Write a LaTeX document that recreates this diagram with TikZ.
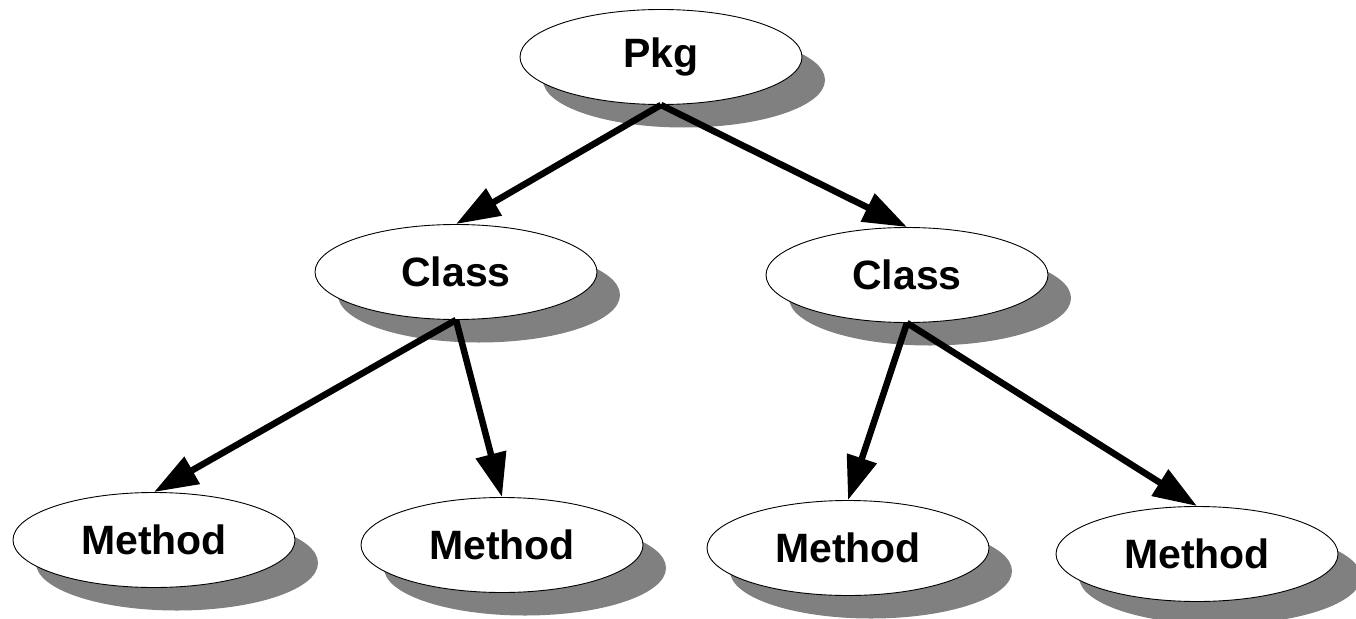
\documentclass[tikz,border=0pt]{standalone}
\usepackage{fontspec}
\setmainfont{Liberation Sans}
\usetikzlibrary{arrows.meta,shapes.geometric,shadows}
\begin{document}
\begin{tikzpicture}[x=1pt,y=-1pt,
  oval/.style={ellipse, draw=black, line width=0.9pt, fill=white,
    minimum width=282pt, minimum height=95pt, inner sep=0pt,
    font=\fontsize{41}{45}\selectfont\bfseries,
    drop shadow={shadow xshift=23pt, shadow yshift=-23pt,
      fill=black!50, opacity=1, draw=none}},
  link/.style={line width=6.5pt, -{Triangle[length=44pt,width=30pt]}}]
\useasboundingbox (0,0) rectangle (1356,618);

% tree of nodes
\node[oval] (pkg) at (661,57)  {Pkg};
\node[oval] (cl)  at (456,272) {Class};
\node[oval] (cr)  at (907,275) {Class};
\node[oval] (m1)  at (154,540) {Method};
\node[oval] (m2)  at (502,545) {Method};
\node[oval] (m3)  at (848,548) {Method};
\node[oval] (m4)  at (1197,554) {Method};

% containment arrows
\draw[link] (pkg.south) -- (cl.north);
\draw[link] (pkg.south) -- (cr.north);
\draw[link] (cl.south) -- (m1.north);
\draw[link] (cl.south) -- (m2.north);
\draw[link] (cr.south) -- (m3.north);
\draw[link] (cr.south) -- (m4.north);
\end{tikzpicture}
\end{document}
